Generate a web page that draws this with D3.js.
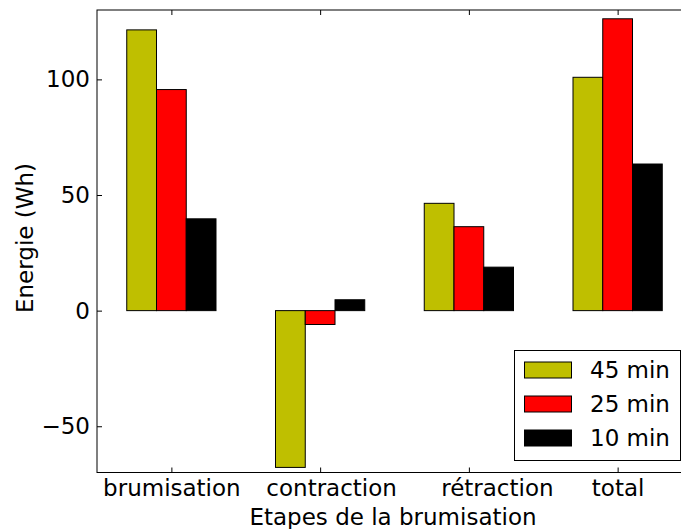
<!DOCTYPE html>
<html><head><meta charset="utf-8">
<script src="https://cdn.jsdelivr.net/npm/d3@7"></script>
<style>body{margin:0;background:#fff}svg{display:block}text{font-family:"DejaVu Sans",sans-serif}</style>
</head><body>
<svg id="c" width="681" height="529"></svg>
<script>
const categories = ["brumisation", "contraction", "rétraction", "total"];
const seriesNames = ["45 min", "25 min", "10 min"];
const v45 = [121.4, -67.8, 46.4, 100.9];
const v25 = [95.6, -6.0, 36.3, 126.2];
const v10 = [39.7, 4.7, 18.8, 63.4];
const yTicks = [-50, 0, 50, 100];
const colors = ["#bfbf00", "#ff0000", "#000000"];
const series = [v45, v25, v10];
const labelShift = [0, 11, 28, 0];

const svg = d3.select("#c");
const L = 97, R = 692, T = 10, B = 472.5;
const FS = 23;
const x = d3.scaleLinear().domain([-0.5, 3.5]).range([L, R]);
const y = d3.scaleLinear().domain([-70, 130]).range([B, T]);
const w = 0.2;

const g = svg.append("g");
series.forEach((vals, k) => {
  g.selectAll(null).data(vals).enter().append("rect")
    .attr("x", (d, i) => x(i - 1.5 * w + k * w))
    .attr("width", x(w) - x(0))
    .attr("y", d => y(Math.max(0, d)))
    .attr("height", d => Math.abs(y(d) - y(0)))
    .attr("fill", colors[k]).attr("stroke", "#000").attr("stroke-width", 1);
});

// frame
svg.append("rect").attr("x", L).attr("y", T).attr("width", R - L).attr("height", B - T)
  .attr("fill", "none").attr("stroke", "#000").attr("stroke-width", 1);

// y axis
const ya = svg.append("g").attr("transform", `translate(${L},0)`)
  .call(d3.axisLeft(y).tickValues(yTicks).tickSize(-5).tickPadding(7).tickFormat(d => d < 0 ? "\u2212" + Math.abs(d) : d));
ya.select(".domain").remove();
ya.selectAll("text").attr("font-size", FS).attr("font-family", "DejaVu Sans").attr("fill", "#000");
const yr = svg.append("g").attr("transform", `translate(${R},0)`)
  .call(d3.axisRight(y).tickValues(yTicks).tickSize(-5).tickFormat(""));
yr.select(".domain").remove();

// x axis
const xa = svg.append("g").attr("transform", `translate(0,${B})`)
  .call(d3.axisBottom(x).tickValues(d3.range(categories.length)).tickSize(-5).tickPadding(7).tickFormat(i => categories[i]));
xa.select(".domain").remove();
xa.selectAll("text").attr("font-size", FS).attr("font-family", "DejaVu Sans").attr("fill", "#000")
  .attr("dx", i => labelShift[i]);
const xt = svg.append("g").attr("transform", `translate(0,${T})`)
  .call(d3.axisTop(x).tickValues(d3.range(categories.length)).tickSize(-5).tickFormat(""));
xt.select(".domain").remove();

// labels
svg.append("text").attr("x", 393).attr("y", 525).attr("text-anchor", "middle")
  .attr("font-size", FS).text("Etapes de la brumisation");
svg.append("text").attr("transform", `translate(33,238) rotate(-90)`).attr("text-anchor", "middle")
  .attr("font-size", FS).text("Energie (Wh)");

// legend
const lg = svg.append("g");
lg.append("rect").attr("x", 514.5).attr("y", 350.5).attr("width", 166).attr("height", 110)
  .attr("fill", "#fff").attr("stroke", "#000").attr("stroke-width", 1);
seriesNames.forEach((n, k) => {
  const cy = 370 + k * 34;
  lg.append("rect").attr("x", 524.5).attr("y", cy - 8).attr("width", 47).attr("height", 16)
    .attr("fill", colors[k]).attr("stroke", "#000").attr("stroke-width", 1);
  lg.append("text").attr("x", 590).attr("y", cy + 8).attr("font-size", FS).text(n);
});
</script>
</body></html>
